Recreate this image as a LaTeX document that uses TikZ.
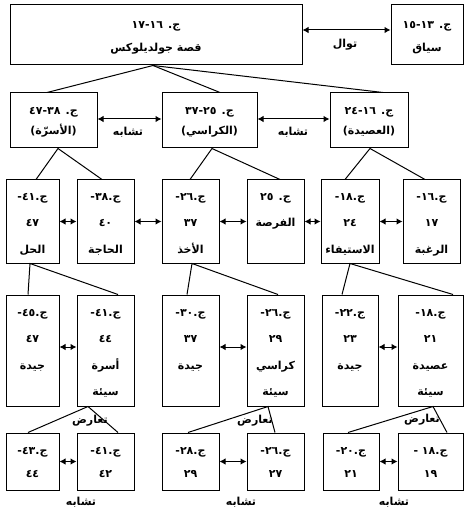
\documentclass[tikz,border=0pt]{standalone}
\usepackage{fontspec}
\newfontfamily\arabicfont[Script=Arabic]{DejaVu Sans}
\TeXXeTstate=1
\usetikzlibrary{arrows.meta}
\newcommand\rl[1]{\beginR\strut #1\endR}
\newcommand\lb[1]{\beginR #1\endR}
\newcommand\xdepth[1]{\rule[-#1pt]{0pt}{0pt}}
\begin{document}
\begin{tikzpicture}[x=1pt,y=-1pt,
  box/.style={draw, line width=1pt, inner sep=0pt, align=center},
  ftop/.style={font=\arabicfont\bfseries\fontsize{11}{23}\selectfont},
  ftwo/.style={font=\arabicfont\bfseries\fontsize{11}{20}\selectfont},
  fthree/.style={font=\arabicfont\bfseries\fontsize{11}{26.5}\selectfont},
  ffive/.style={font=\arabicfont\bfseries\fontsize{11}{23}\selectfont},
  lbl/.style={font=\arabicfont\bfseries\fontsize{11}{12}\selectfont, inner sep=0pt},
  conn/.style={line width=1pt},
  dbl/.style={line width=1pt, {Latex[length=6pt,width=6.5pt]}-{Latex[length=6pt,width=6.5pt]}}]
\useasboundingbox (0,0) rectangle (464,510);
% top row
\node[box,ftop,minimum width=292,minimum height=60] (gold) at (156,35) {\rl{ج. ١٦-١٧}\\\rl{قصة جولديلوكس}};
\node[box,ftop,minimum width=72,minimum height=60] (ctx) at (427,35) {\rl{ج. ١٣-١٥}\\\rl{سياق}};
% level 2
\node[box,ftwo,minimum width=87,minimum height=55] (A) at (53.5,120.5) {\rl{ج. ٣٨-٤٧}\\\rl{(الأسرّة)}};
\node[box,ftwo,minimum width=95,minimum height=55] (B) at (209.5,120.5) {\rl{ج. ٢٥-٣٧}\\\rl{(الكراسي)}};
\node[box,ftwo,minimum width=78,minimum height=55] (C) at (369,120.5) {\rl{ج. ١٦-٢٤}\\\rl{(العصيدة)}};
% level 3
\node[box,fthree,minimum width=53,minimum height=83] (Ta) at (32.5,221.5) {\rl{ج.٤١-}\\\rl{٤٧}\\\rl{الحل}};
\node[box,fthree,minimum width=57,minimum height=83] (Tb) at (105.5,221.5) {\rl{ج.٣٨-}\\\rl{٤٠}\\\rl{الحاجة}};
\node[box,fthree,minimum width=57,minimum height=83] (Tc) at (190.5,221.5) {\rl{ج.٢٦-}\\\rl{٣٧}\\\rl{الأخذ}};
\node[box,fthree,minimum width=57,minimum height=83] (Td) at (275.5,221.5) {\rl{ج. ٢٥}\\\rl{الفرصة\xdepth{34.5}}};
\node[box,fthree,minimum width=58,minimum height=83] (Te) at (350,221.5) {\rl{ج.١٨-}\\\rl{٢٤}\\\rl{الاستيفاء}};
\node[box,fthree,minimum width=57,minimum height=83] (Tf) at (431.5,221.5) {\rl{ج.١٦-}\\\rl{١٧}\\\rl{الرغبة}};
% level 4
\node[box,fthree,minimum width=53,minimum height=111] (Fa) at (32.5,350.5) {\rl{ج.٤٥-}\\\rl{٤٧}\\\rl{جيدة\xdepth{34.5}}};
\node[box,fthree,minimum width=57,minimum height=111] (Fb) at (105.5,350.5) {\rl{ج.٤١-}\\\rl{٤٤}\\\rl{أسرة}\\\rl{سيئة}};
\node[box,fthree,minimum width=57,minimum height=111] (Fc) at (190.5,350.5) {\rl{ج.٣٠-}\\\rl{٣٧}\\\rl{جيدة\xdepth{34.5}}};
\node[box,fthree,minimum width=57,minimum height=111] (Fd) at (275.5,350.5) {\rl{ج.٢٦-}\\\rl{٢٩}\\\rl{كراسي}\\\rl{سيئة}};
\node[box,fthree,minimum width=56,minimum height=111] (Fe) at (350,350.5) {\rl{ج.٢٢-}\\\rl{٢٣}\\\rl{جيدة\xdepth{34.5}}};
\node[box,fthree,minimum width=65,minimum height=111] (Ff) at (430.5,350.5) {\rl{ج.١٨-}\\\rl{٢١}\\\rl{عصيدة}\\\rl{سيئة}};
% level 5
\node[box,ffive,minimum width=53,minimum height=57] (Va) at (32.5,461.5) {\rl{ج.٤٣-}\\\rl{٤٤}};
\node[box,ffive,minimum width=57,minimum height=57] (Vb) at (105.5,461.5) {\rl{ج.٤١-}\\\rl{٤٢}};
\node[box,ffive,minimum width=57,minimum height=57] (Vc) at (190.5,461.5) {\rl{ج.٢٨-}\\\rl{٢٩}};
\node[box,ffive,minimum width=57,minimum height=57] (Vd) at (275.5,461.5) {\rl{ج.٢٦-}\\\rl{٢٧}};
\node[box,ffive,minimum width=56,minimum height=57] (Ve) at (351,461.5) {\rl{ج.٢٠-}\\\rl{٢١}};
\node[box,ffive,minimum width=65,minimum height=57] (Vf) at (430.5,461.5) {\rl{ج.١٨ -}\\\rl{١٩}};
% labels
\node[lbl] (l0) at (345,45) {\lb{توال}};
\node[lbl] (l1) at (128,132) {\lb{تشابه}};
\node[lbl] (l2) at (293,132) {\lb{تشابه}};
\node[lbl] (k1) at (90,421) {\lb{تعارض}};
\node[lbl] (k2) at (255,421) {\lb{تعارض}};
\node[lbl] (k3) at (422,420) {\lb{تعارض}};
\node[lbl] (s1) at (81,502) {\lb{تشابه}};
\node[lbl] (s2) at (241,502) {\lb{تشابه}};
\node[lbl] (s3) at (394,502) {\lb{تشابه}};
% horizontal arrows
\draw[dbl] ([yshift=5pt]gold.east) -- ([yshift=5pt]ctx.west);
\draw[dbl] ([yshift=1.5pt]A.east) -- ([yshift=1.5pt]B.west);
\draw[dbl] ([yshift=1.5pt]B.east) -- ([yshift=1.5pt]C.west);
\draw[dbl] (Ta.east) -- (Tb.west);
\draw[dbl] (Tb.east) -- (Tc.west);
\draw[dbl] (Tc.east) -- (Td.west);
\draw[dbl] (Td.east) -- (Te.west);
\draw[dbl] (Te.east) -- (Tf.west);
\draw[dbl] ([yshift=3.5pt]Fa.east) -- ([yshift=3.5pt]Fb.west);
\draw[dbl] ([yshift=3.5pt]Fc.east) -- ([yshift=3.5pt]Fd.west);
\draw[dbl] ([yshift=3.5pt]Fe.east) -- ([yshift=3.5pt]Ff.west);
\draw[dbl] (Va.east) -- (Vb.west);
\draw[dbl] (Vc.east) -- (Vd.west);
\draw[dbl] (Ve.east) -- (Vf.west);
% tree connectors
\draw[conn] ([xshift=-6.5pt]A.north) -- ([xshift=-3pt]gold.south) -- ([xshift=10.5pt]B.north);
\draw[conn] ([xshift=-3pt]gold.south) -- ([xshift=14pt]C.north);
\draw[conn] ([xshift=3.5pt]Ta.north) -- ([xshift=4.5pt]A.south) -- ([xshift=-3.5pt]Tb.north);
\draw[conn] ([xshift=-0.5pt]Tc.north) -- ([xshift=2.5pt]B.south) -- ([xshift=4.5pt]Td.north);
\draw[conn] ([xshift=-5pt]Te.north) -- ([xshift=1pt]C.south) -- ([xshift=-6.5pt]Tf.north);
\draw[conn] ([xshift=-4.5pt]Fa.north) -- ([xshift=-2.5pt]Ta.south) -- ([xshift=12.5pt]Fb.north);
\draw[conn] ([xshift=-3.5pt]Fc.north) -- ([xshift=1.5pt]Tc.south) -- ([xshift=2.5pt]Fd.north);
\draw[conn] ([xshift=-8pt]Fe.north) -- (Te.south) -- ([xshift=22.5pt]Ff.north);
\draw[conn] ([xshift=-4.5pt]Va.north) -- ([xshift=-17.5pt]Fb.south) -- ([xshift=12.5pt]Vb.north);
\draw[conn] ([xshift=-2.5pt]Vc.north) -- ([xshift=-7.5pt]Fd.south) -- ([xshift=-0.5pt]Vd.north);
\draw[conn] ([xshift=-3pt]Ve.north) -- ([xshift=2.5pt]Ff.south) -- ([xshift=16.5pt]Vf.north);
\end{tikzpicture}
\end{document}
